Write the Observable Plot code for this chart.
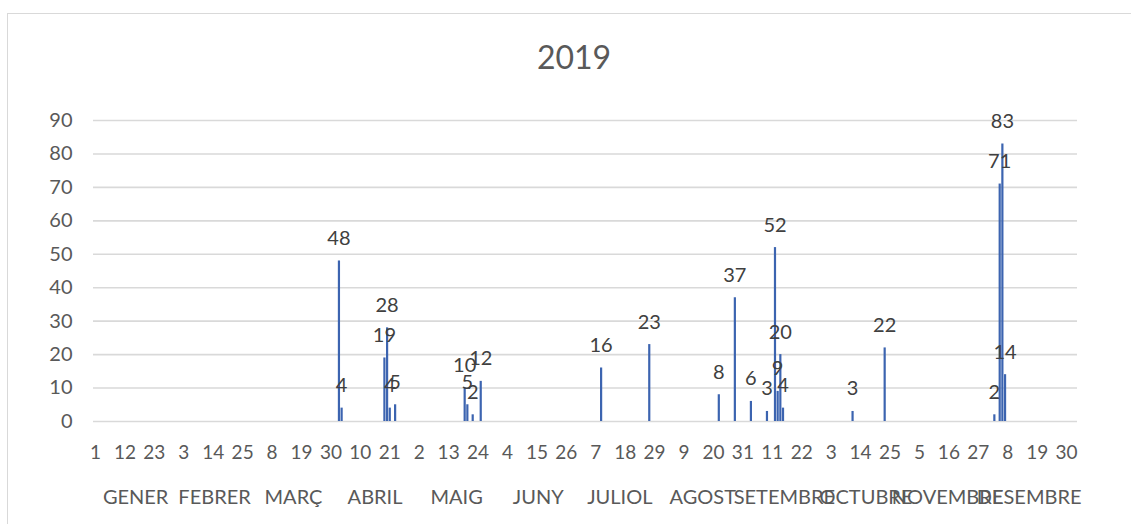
<!DOCTYPE html>
<html><head><meta charset="utf-8">
<script src="https://cdn.jsdelivr.net/npm/d3@7"></script>
<script src="https://cdn.jsdelivr.net/npm/@observablehq/plot@0.6"></script>
<style>
body{margin:0;background:#fff;}
#wrap{position:relative;width:1131px;height:524px;overflow:hidden;font-family:Lato,sans-serif;}
#frame{position:absolute;left:7px;top:13px;width:1300px;height:700px;border:1px solid #d9d9d9;box-sizing:border-box;}
#title{position:absolute;left:0;width:1148px;top:41px;line-height:32px;text-align:center;font-size:32px;color:#595959;}
#chart{position:absolute;left:0;top:0;}
</style></head>
<body>
<div id="wrap"><div id="frame"></div><div id="title">2019</div><div id="chart"></div></div>
<script>
const dates = ["2019-04-02","2019-04-03","2019-04-19","2019-04-20","2019-04-21","2019-04-23",
  "2019-05-19","2019-05-20","2019-05-22","2019-05-25","2019-07-09","2019-07-27",
  "2019-08-22","2019-08-28","2019-09-03","2019-09-09","2019-09-12","2019-09-13",
  "2019-09-14","2019-09-15","2019-10-11","2019-10-23","2019-12-03","2019-12-05",
  "2019-12-06","2019-12-07"];
const values = [48,4,19,28,4,5,10,5,2,12,16,23,8,37,6,3,52,9,20,4,3,22,2,71,83,14];
const monthNames = ["GENER","FEBRER","MARÇ","ABRIL","MAIG","JUNY","JULIOL","AGOST","SETEMBRE","OCTUBRE","NOVEMBRE","DESEMBRE"];
const yTicks = [0,10,20,30,40,50,60,70,80,90];
const tickDayOffsets = [0,11,22,33,44,55,66,77,88,99,110,121,132,143,154,165,176,187,198,209,220,231,242,253,264,275,286,297,308,319,330,341,352,363];

const data = dates.map((d,i)=>({date:new Date(d+"T00:00:00Z"), value:values[i]}));
const jan1 = Date.UTC(2019,0,1);
const tickDates = tickDayOffsets.map(o=>new Date(jan1 + o*864e5));
const months = monthNames.map((name,i)=>{
  const a = Date.UTC(2019,i,1), b = Date.UTC(2019,i+1,1);
  return {name, mid:new Date((a+b)/2 - 864e5/2)};
});

const chart = Plot.plot({
  width:1131, height:524,
  marginTop:120, marginBottom:103, marginLeft:93, marginRight:54,
  style:{fontFamily:"Lato, sans-serif", fontSize:"19px", color:"#595959", background:"transparent", overflow:"visible"},
  x:{type:"utc", domain:[new Date(Date.UTC(2018,11,31,6)), new Date(Date.UTC(2020,0,3,2))]},
  y:{domain:[0,90]},
  marks:[
    Plot.gridY(yTicks,{stroke:"#d9d9d9", strokeOpacity:1, strokeWidth:1.6}),
    Plot.axisY({ticks:yTicks, tickSize:0, tickPadding:21, label:null, fontSize:20, fill:"#595959"}),
    Plot.axisX({ticks:tickDates, tickSize:0, tickPadding:24, tickFormat:d=>String(d.getUTCDate()), label:null, fontSize:19, fill:"#595959"}),
    Plot.ruleX(data,{x:"date", y1:0, y2:"value", stroke:"#3c64b0", strokeWidth:2.2}),
    Plot.text(data,{x:"date", y:"value", text:d=>String(d.value), dy:-16, lineAnchor:"bottom", fill:"#404040", fontSize:20}),
    Plot.text(months,{x:"mid", text:"name", frameAnchor:"bottom", dy:82, fill:"#595959", fontSize:20})
  ]
});
document.getElementById("chart").appendChild(chart);
</script>
</body></html>
